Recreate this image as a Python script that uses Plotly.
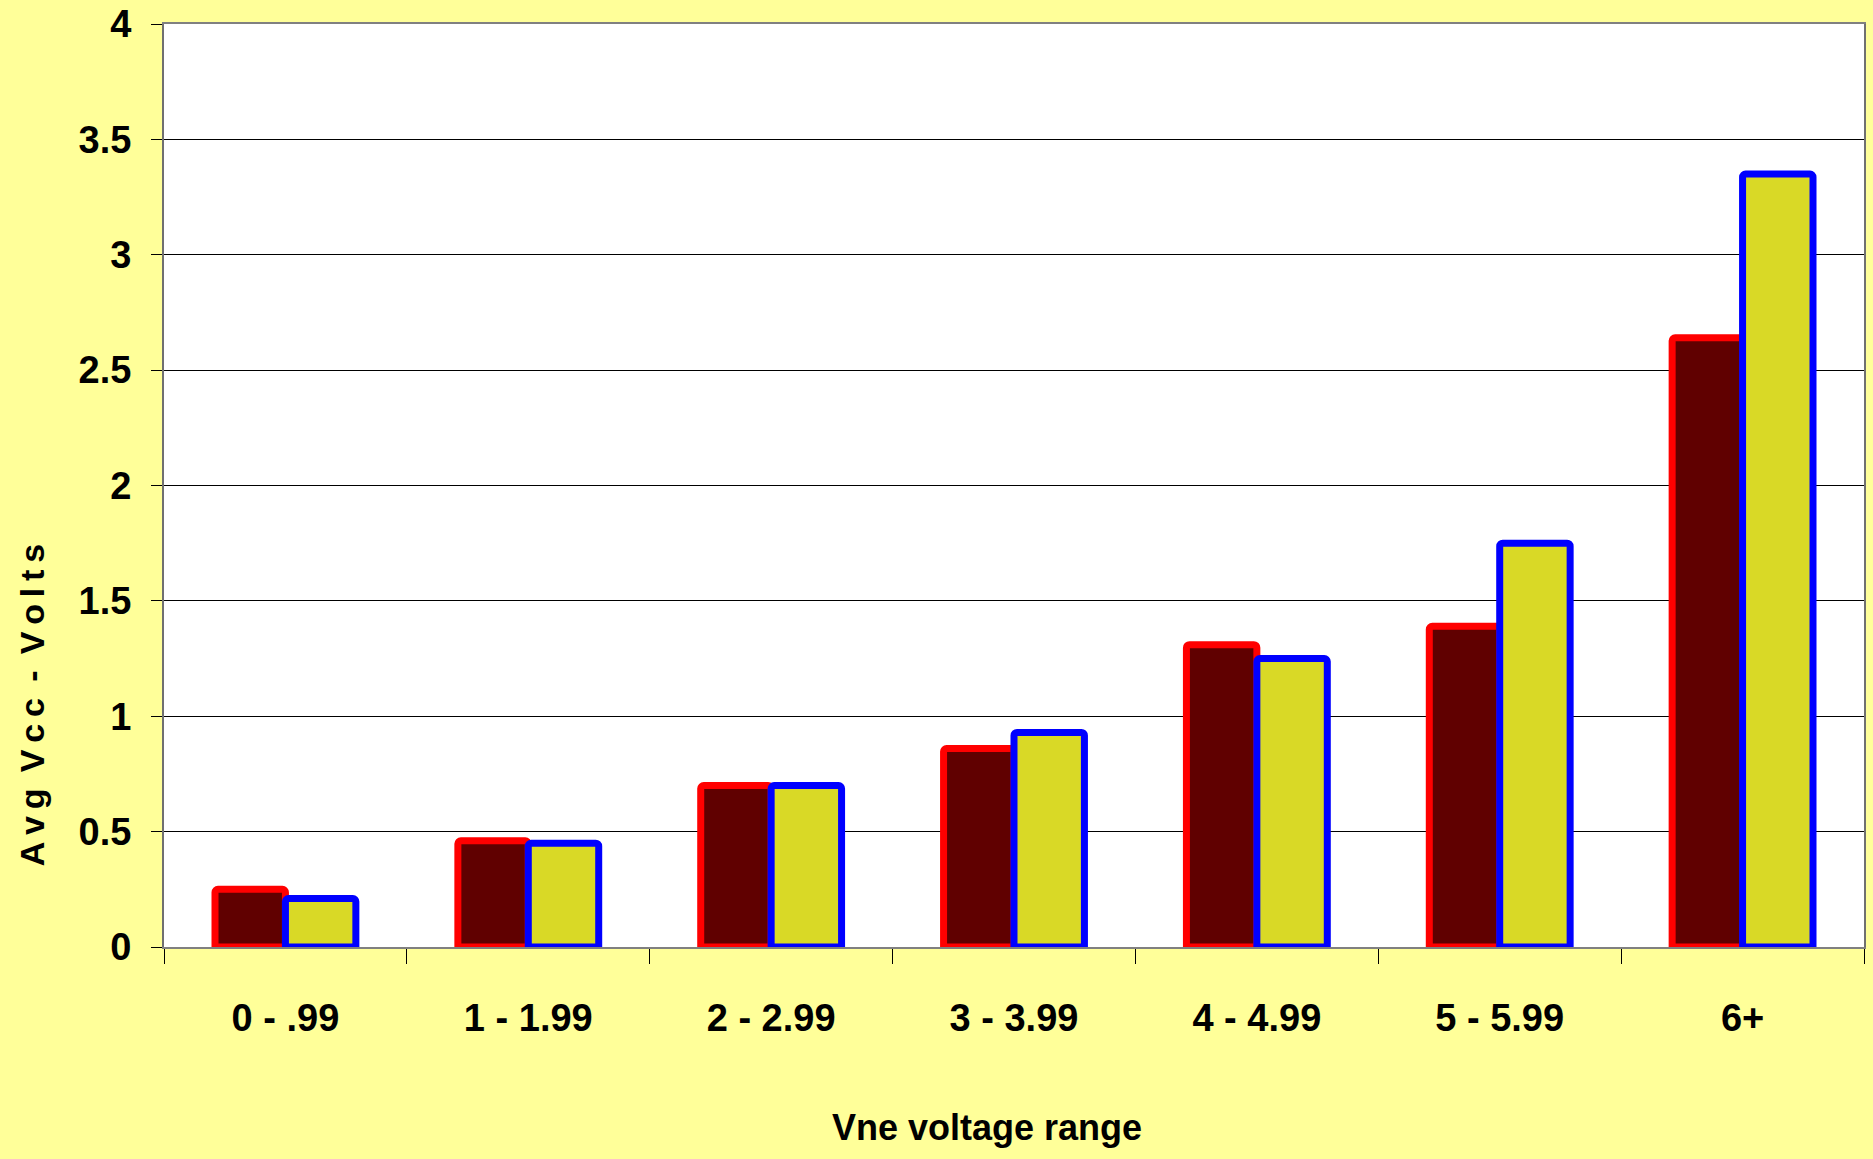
import plotly.graph_objects as go

# Vne voltage range buckets and average Vcc readings (volts)
categories = ["0 - .99", "1 - 1.99", "2 - 2.99", "3 - 3.99", "4 - 4.99", "5 - 5.99", "6+"]
series_a = [0.25, 0.46, 0.70, 0.86, 1.31, 1.39, 2.64]
series_b = [0.21, 0.45, 0.70, 0.93, 1.25, 1.75, 3.35]
y_ticks = [0, 0.5, 1, 1.5, 2, 2.5, 3, 3.5, 4]
y_tick_text = ["0", "0.5", "1", "1.5", "2", "2.5", "3", "3.5", "4"]

FONT = "Liberation Sans Narrow, Arial Narrow, Liberation Sans, Arial, sans-serif"

# spaced-out y axis title
THIN = "\u2009"
WORD_GAP = "\u00a0" + THIN
y_title = WORD_GAP.join(THIN.join(word) for word in ["Avg", "Vcc", "-", "Volts"])
x_title = "Vne voltage range"

fig = go.Figure()
fig.add_trace(go.Bar(
    x=categories, y=series_a,
    marker=dict(color="#600000", line=dict(color="#FF0000", width=7), cornerradius=3),
))
fig.add_trace(go.Bar(
    x=categories, y=series_b,
    marker=dict(color="#D9D926", line=dict(color="#0000FF", width=7), cornerradius=3),
))

fig.update_layout(
    width=1873, height=1159,
    margin=dict(l=164, r=9, t=24, b=212),
    paper_bgcolor="#FFFF99",
    plot_bgcolor="#FFFFFF",
    barmode="group",
    bargap=0.42,
    bargroupgap=0,
    showlegend=False,
    font=dict(family=FONT, size=38, color="#000000"),
)

fig.update_xaxes(
    type="category",
    automargin=False,
    tickson="boundaries",
    ticks="outside", ticklen=15, tickwidth=1, tickcolor="#000000",
    showline=True, linecolor="#808080", linewidth=2, mirror=True,
    showgrid=False,
    tickvals=categories,
    ticktext=["<b>%s</b>" % c for c in categories],
    tickfont=dict(family=FONT, size=38, color="#000000"),
    ticklabelstandoff=36,
)

fig.update_yaxes(
    range=[0, 4],
    automargin=False,
    tickvals=y_ticks, ticktext=["<b>%s</b>" % t for t in y_tick_text],
    ticks="outside", ticklen=11, tickwidth=1, tickcolor="#000000",
    showline=True, linecolor="#707070", linewidth=2, mirror=True,
    showgrid=True, gridcolor="#000000", gridwidth=1,
    zeroline=False,
    tickfont=dict(family=FONT, size=38, color="#000000"),
    ticklabelstandoff=12,
)

# y axis title sits low on the left edge
fig.add_annotation(
    text="<b>%s</b>" % y_title,
    xref="paper", yref="paper",
    x=-0.0776, y=0.262,
    xanchor="center", yanchor="middle",
    textangle=-90, showarrow=False,
    font=dict(family=FONT, size=34, color="#000000"),
)

# x axis title, slightly left of the plot centre
fig.add_annotation(
    text="<b>%s</b>" % x_title,
    xref="paper", yref="paper",
    x=0.484, y=-0.196,
    xanchor="center", yanchor="middle",
    showarrow=False,
    font=dict(family=FONT, size=36, color="#000000"),
)

fig.write_html("out.html")
